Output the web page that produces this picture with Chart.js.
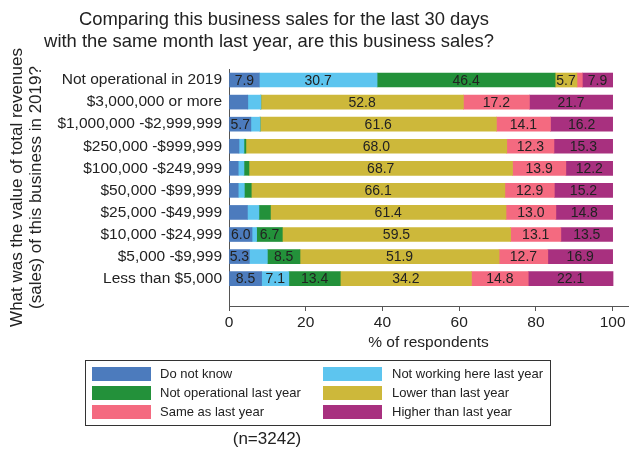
<!DOCTYPE html>
<html>
<head>
<meta charset="utf-8">
<script src="https://cdn.jsdelivr.net/npm/chart.js@4/dist/chart.umd.min.js"></script>
<style>
  html, body { margin: 0; padding: 0; background: #fff; }
  #wrap { width: 635px; height: 450px; }
</style>
</head>
<body>
<div id="wrap"><canvas id="chart" width="635" height="450"></canvas></div>
<script>
// revenue bands, top to bottom
const categories = [
    'Not operational in 2019', '$3,000,000 or more', '$1,000,000 -$2,999,999',
    '$250,000 -$999,999', '$100,000 -$249,999', '$50,000 -$99,999',
    '$25,000 -$49,999', '$10,000 -$24,999', '$5,000 -$9,999', 'Less than $5,000'
];

// % of respondents per answer
const doNotKnow      = [7.9, 4.9, 5.7, 2.6, 2.4, 2.4, 4.8, 6.0, 5.3, 8.5];
const notWorking     = [30.7, 3.4, 2.4, 1.3, 1.5, 1.6, 3.0, 1.2, 4.7, 7.1];
const notOperational = [46.4, 0, 0, 0.5, 1.3, 1.8, 3.0, 6.7, 8.5, 13.4];
const lowerThan      = [5.7, 52.8, 61.6, 68.0, 68.7, 66.1, 61.4, 59.5, 51.9, 34.2];
const sameAs         = [1.4, 17.2, 14.1, 12.3, 13.9, 12.9, 13.0, 13.1, 12.7, 14.8];
const higherThan     = [7.9, 21.7, 16.2, 15.3, 12.2, 15.2, 14.8, 13.5, 16.9, 22.1];

const xTicks = [0, 20, 40, 60, 80, 100];

const FONT = "'Liberation Sans', Arial, sans-serif";
const TEXT = '#222';

function series(label, values, color) {
    return {
        label: label,
        data: values.map((v, i) => ({ x: v, y: i })),
        backgroundColor: color,
        borderWidth: 0,
        barThickness: 14
    };
}

// value labels inside segments
const segmentLabels = {
    id: 'segmentLabels',
    afterDatasetsDraw(chart) {
        const ctx = chart.ctx;
        ctx.save();
        ctx.font = '14px ' + FONT;
        ctx.fillStyle = TEXT;
        ctx.textAlign = 'center';
        ctx.textBaseline = 'middle';
        chart.data.datasets.forEach((ds, di) => {
            const meta = chart.getDatasetMeta(di);
            meta.data.forEach((bar, i) => {
                const v = ds.data[i].x;
                if (v < 5) return;
                ctx.fillText(v.toFixed(1), (bar.x + bar.base) / 2, bar.y + 1);
            });
        });
        ctx.restore();
    }
};

// title, boxed legend and sample size note
const decorations = {
    id: 'decorations',
    afterDraw(chart) {
        const ctx = chart.ctx;
        ctx.save();
        ctx.fillStyle = TEXT;
        ctx.textBaseline = 'alphabetic';
        ctx.textAlign = 'center';
        ctx.font = '18.4px ' + FONT;
        ctx.fillText('Comparing this business sales for the last 30 days', 284, 25);
        ctx.fillText('with the same month last year, are this business sales?', 269, 47);

        // legend box
        ctx.strokeStyle = '#333';
        ctx.lineWidth = 1;
        ctx.strokeRect(85.5, 360.5, 465, 65);
        ctx.font = '13px ' + FONT;
        ctx.textAlign = 'left';
        ctx.textBaseline = 'middle';
        const colX = [92, 323];
        const textX = [160, 392];
        const rowY = [367, 386, 405];
        chart.data.datasets.forEach((ds, i) => {
            const c = i % 2, r = Math.floor(i / 2);
            ctx.fillStyle = ds.backgroundColor;
            ctx.fillRect(colX[c], rowY[r], 59, 14);
            ctx.fillStyle = TEXT;
            ctx.fillText(ds.label, textX[c], rowY[r] + 7.5);
        });

        ctx.textAlign = 'center';
        ctx.font = '17px ' + FONT;
        ctx.fillText('(n=3242)', 267, 439);
        ctx.restore();
    }
};

new Chart(document.getElementById('chart'), {
    type: 'bar',
    data: {
        datasets: [
            series('Do not know', doNotKnow, '#4c7bbd'),
            series('Not working here last year', notWorking, '#5dc5ef'),
            series('Not operational last year', notOperational, '#23913a'),
            series('Lower than last year', lowerThan, '#cdb83a'),
            series('Same as last year', sameAs, '#f46a80'),
            series('Higher than last year', higherThan, '#a8307f')
        ]
    },
    options: {
        indexAxis: 'y',
        responsive: false,
        animation: false,
        layout: { padding: { top: 69, left: 0, right: 7, bottom: 98 } },
        plugins: {
            legend: { display: false },
            tooltip: { enabled: false }
        },
        scales: {
            x: {
                type: 'linear',
                stacked: true,
                min: 0,
                max: 104,
                afterBuildTicks: (scale) => { scale.ticks = xTicks.map(v => ({ value: v })); },
                afterFit: (scale) => { scale.height = 46; },
                grid: { display: true, drawOnChartArea: false, drawTicks: true, tickLength: 5, color: '#555' },
                border: { display: true, color: '#555', width: 1 },
                ticks: { color: TEXT, padding: 2, maxRotation: 0, font: { family: FONT, size: 15.5 } },
                title: {
                    display: true,
                    text: '% of respondents',
                    color: TEXT,
                    padding: { top: 2, bottom: 0 },
                    font: { family: FONT, size: 15.5 }
                }
            },
            y: {
                type: 'linear',
                stacked: true,
                reverse: true,
                offset: false,
                min: -0.5,
                max: 10.24,
                afterBuildTicks: (scale) => { scale.ticks = categories.map((c, i) => ({ value: i })); },
                afterFit: (scale) => { scale.width = 229; },
                grid: { display: false, drawTicks: false, offset: false },
                border: { display: true, color: '#555', width: 1 },
                ticks: {
                    color: TEXT,
                    padding: 7,
                    font: { family: FONT, size: 15.5 },
                    callback: (v) => categories[v] || ''
                },
                title: {
                    display: true,
                    text: ['What was the value of total revenues', '(sales) of this business in 2019?'],
                    color: TEXT,
                    padding: { top: 8, bottom: 0 },
                    font: { family: FONT, size: 17, lineHeight: 1.1 }
                }
            }
        }
    },
    plugins: [segmentLabels, decorations]
});
</script>
</body>
</html>
